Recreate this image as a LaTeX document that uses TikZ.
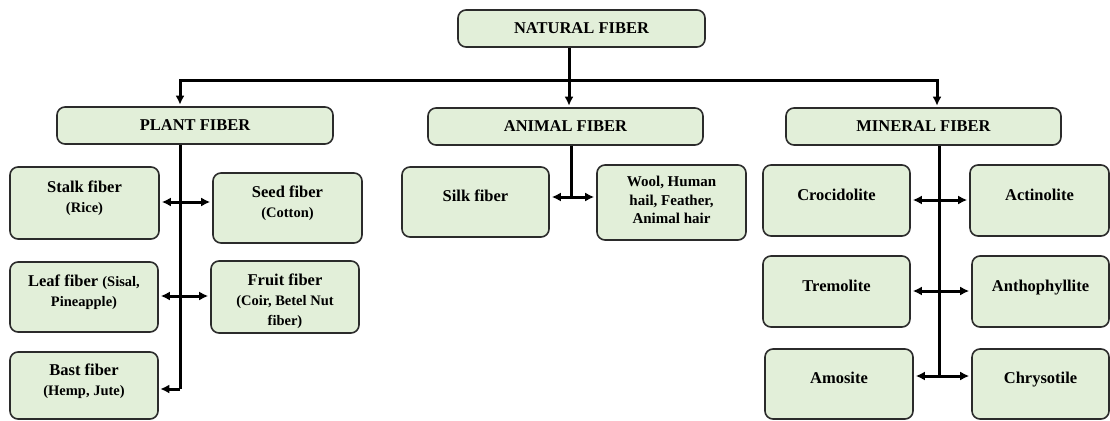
\documentclass[tikz,border=0pt]{standalone}
\usepackage{fontspec}
\setmainfont{Liberation Serif}
\usetikzlibrary{arrows.meta}
\definecolor{boxgreen}{HTML}{E2EFD9}
\definecolor{boxline}{HTML}{2B2B2B}
\newcommand{\subf}{\fontsize{14.5}{20}\selectfont}
\begin{document}
\begin{tikzpicture}[x=1pt,y=-1pt,
  fbox/.style={rectangle,rounded corners=8pt,draw=boxline,line width=1.6pt,fill=boxgreen,
    align=center,inner sep=2pt,font=\bfseries\fontsize{16.5}{20}\selectfont},
  link/.style={line width=3pt,black},
  onearr/.style={link,-{Latex[length=9pt,width=9pt]},shorten >=1.5pt},
  twoarr/.style={link,{Latex[length=9pt,width=9pt]}-{Latex[length=9pt,width=9pt]},shorten >=2pt,shorten <=2pt}]
\useasboundingbox (0,0) rectangle (1110,420);
\foreach \n/\cx/\cy/\w/\h/\t in {
  natural/581.5/28.5/247/37/{NATURAL FIBER},
  plant/195/125.5/276/37/{PLANT FIBER},
  animal/565.5/126.5/275/37/{ANIMAL FIBER},
  mineral/923.5/126.5/275/37/{MINERAL FIBER}}{
  \node[fbox,minimum width=\w pt,minimum height=\h pt] (\n) at (\cx,\cy) {\t};}
\foreach \n/\cx/\cy/\w/\h/\t in {
  stalk/84.5/203/149/72/{Stalk fiber\\{\subf (Rice)}},
  seed/287.5/208/149/70/{Seed fiber\\{\subf (Cotton)}},
  leaf/84/297/148/70/{Leaf fiber {\subf (Sisal,}\\{\subf Pineapple)}},
  bast/84/385.5/148/67/{Bast fiber\\{\subf (Hemp, Jute)}},
  silk/475.5/202/147/70/{Silk fiber},
  crocid/836.5/200.5/147/71/{Crocidolite},
  actino/1039.5/200.5/139/71/{Actinolite},
  tremo/836.5/291.5/147/71/{Tremolite},
  antho/1040.5/291.5/137/71/{Anthophyllite},
  amos/839/384/148/70/{Amosite},
  chryso/1040.5/384/137/70/{Chrysotile}}{
  \node[fbox,minimum width=\w pt,minimum height=\h pt] (\n) at (\cx,\cy) {\t\rule[-12pt]{0pt}{12pt}};}
\node[fbox,minimum width=148pt,minimum height=72pt] (fruit) at (285,297)
  {\rule{0pt}{20pt}Fruit fiber\\{\subf (Coir, Betel Nut}\\{\subf fiber)}};
\node[fbox,minimum width=149pt,minimum height=75pt,font=\bfseries\fontsize{15}{17}\selectfont] (wool) at (671.5,202.5)
  {Wool, Human\\[1.5pt]hail, Feather,\\[1.5pt]Animal hair\rule[-5pt]{0pt}{5pt}};
\coordinate (barL) at (180,80);
\coordinate (barM) at (569,80);
\coordinate (barR) at (937,80);
\draw[link] (natural.south -| barM) -- (barM);
\draw[link,line cap=rect] (barL) -- (barR);
\draw[onearr] (barL) -- (barL |- plant.north);
\draw[onearr] (barM) -- (barM |- animal.north);
\draw[onearr] (barR) -- (barR |- mineral.north);
\coordinate (p1) at (180,202);
\coordinate (p2) at (180,296);
\coordinate (p3) at (180,389);
\draw[link] (plant.south -| p3) -- (p3);
\draw[twoarr] (p1 -| stalk.east) -- (p1 -| seed.west);
\draw[twoarr] (p2 -| leaf.east) -- (p2 -| fruit.west);
\draw[onearr] (p3) -- (p3 -| bast.east);
\coordinate (a1) at (571,197);
\draw[link] (animal.south -| a1) -- (a1);
\draw[twoarr] (a1 -| silk.east) -- (a1 -| wool.west);
\coordinate (m1) at (939,200);
\coordinate (m2) at (939,291);
\coordinate (m3) at (939,376);
\draw[link] (mineral.south -| m3) -- (m3);
\draw[twoarr] (m1 -| crocid.east) -- (m1 -| actino.west);
\draw[twoarr] (m2 -| tremo.east) -- (m2 -| antho.west);
\draw[twoarr] (m3 -| amos.east) -- (m3 -| chryso.west);
\end{tikzpicture}
\end{document}
